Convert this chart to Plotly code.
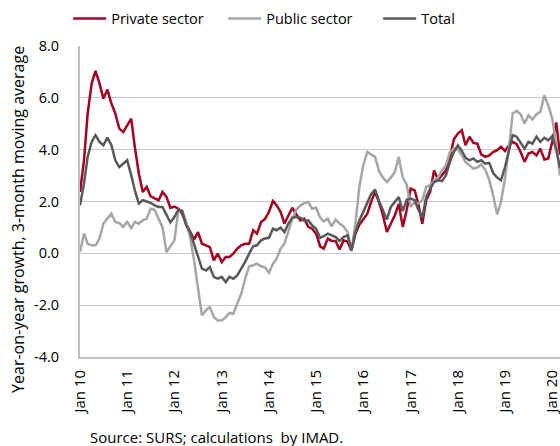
import pandas as pd
import plotly.graph_objects as go

# Monthly data, Jan 2010 – Mar 2020 (year-on-year growth, 3-month moving average, %)
private_sector = [
    2.37, 3.59, 5.39, 6.55, 7.04, 6.55, 5.97, 6.32, 5.78, 5.39, 4.81, 4.68,
    4.94, 5.20, 4.10, 3.08, 2.37, 2.56, 2.20, 2.11, 2.05, 2.37, 2.18, 1.75,
    1.80, 1.72, 1.53, 1.14, 0.82, 0.53, 0.82, 0.37, 0.31, 0.24, -0.27, -0.01,
    -0.34, -0.14, -0.14, -0.01, 0.18, 0.31, 0.37, 0.37, 0.89, 0.76, 1.21, 1.32,
    1.60, 2.02, 1.86, 1.60, 1.15, 1.47, 1.76, 1.50, 1.27, 1.34, 1.02, 0.95,
    0.76, 0.27, 0.18, 0.57, 0.48, 0.48, 0.15, 0.50, 0.45, 0.10, 0.76, 1.10,
    1.30, 1.53, 1.98, 2.37, 1.98, 1.47, 0.82, 1.14, 1.47, 1.91, 1.02, 1.66,
    2.50, 2.43, 1.91, 1.14, 2.05, 2.37, 3.20, 2.84, 3.01, 3.20, 3.72, 4.40,
    4.62, 4.75, 4.17, 4.50, 4.26, 4.23, 3.82, 3.72, 3.78, 3.91, 3.98, 4.11,
    3.95, 4.17, 4.30, 4.21, 3.91, 3.53, 3.85, 3.91, 3.78, 4.04, 3.62, 3.66,
    4.30, 5.05, 3.80,
]
public_sector = [
    0.05, 0.76, 0.37, 0.31, 0.31, 0.57, 1.15, 1.34, 1.53, 1.21, 1.17, 1.02,
    1.21, 0.97, 1.21, 1.15, 1.27, 1.34, 1.72, 1.68, 1.34, 1.00, 0.05, 0.25,
    0.50, 1.66, 1.66, 1.21, 0.63, -0.27, -1.30, -2.39, -2.20, -2.07, -2.46, -2.59,
    -2.59, -2.46, -2.30, -2.33, -1.94, -1.56, -0.98, -0.50, -0.46, -0.40, -0.50, -0.54,
    -0.75, -0.40, -0.21, 0.18, 0.37, 0.82, 1.34, 1.69, 1.85, 1.94, 1.98, 1.72,
    1.76, 1.38, 1.23, 1.34, 1.04, 1.30, 1.15, 1.04, 0.82, 0.11, 1.15, 2.56,
    3.40, 3.91, 3.82, 3.72, 3.18, 2.92, 2.75, 2.92, 3.14, 3.72, 2.92, 2.66,
    1.79, 1.98, 1.92, 2.05, 2.56, 2.63, 2.82, 2.92, 3.20, 3.40, 3.91, 4.04,
    4.00, 3.78, 3.53, 3.40, 3.27, 3.31, 3.43, 3.23, 2.82, 2.24, 1.50, 2.00,
    2.90, 4.10, 5.40, 5.50, 5.37, 5.01, 5.33, 5.16, 5.37, 5.46, 6.10, 5.71,
    5.20, 4.20, 3.00,
]
total = [
    1.85, 2.69, 3.72, 4.30, 4.56, 4.30, 4.17, 4.47, 4.17, 3.59, 3.33, 3.46,
    3.59, 3.01, 2.43, 1.92, 2.05, 2.00, 1.95, 1.85, 1.79, 1.79, 1.47, 1.19,
    1.40, 1.69, 1.63, 1.08, 0.82, 0.37, -0.14, -0.59, -0.66, -0.53, -0.91, -0.98,
    -0.91, -1.11, -0.91, -0.98, -0.85, -0.59, -0.33, -0.01, 0.27, 0.31, 0.50, 0.57,
    0.60, 0.95, 0.89, 0.99, 0.82, 1.15, 1.38, 1.40, 1.38, 1.25, 1.27, 1.08,
    0.95, 0.60, 0.66, 0.76, 0.70, 0.63, 0.48, 0.63, 0.70, 0.11, 0.82, 1.27,
    1.60, 1.98, 2.28, 2.46, 2.02, 1.66, 1.30, 1.79, 1.98, 2.17, 1.63, 2.07,
    2.11, 2.05, 1.69, 1.38, 2.17, 2.50, 2.75, 2.82, 2.79, 3.01, 3.53, 3.91,
    4.17, 3.95, 3.69, 3.59, 3.66, 3.53, 3.59, 3.46, 3.49, 3.10, 2.92, 2.82,
    3.33, 4.04, 4.56, 4.50, 4.26, 4.04, 4.30, 4.23, 4.50, 4.30, 4.46, 4.36,
    4.52, 4.00, 3.30,
]
months = pd.date_range("2010-01-01", periods=len(total), freq="MS")

x_tick_dates = [f"{y}-01-01" for y in range(2010, 2021)]
x_tick_labels = ["Jan 10", "Jan 11", "Jan 12", "Jan 13", "Jan 14", "Jan 15",
                 "Jan 16", "Jan 17", "Jan 18", "Jan 19", "Jan 20"]
y_tick_values = [-4, -2, 0, 2, 4, 6, 8]
y_tick_labels = ["-4.0", "-2.0", "0.0", "2.0", "4.0", "6.0", "8.0"]

FONT = "Open Sans"
fig = go.Figure()
fig.add_trace(go.Scatter(x=months, y=private_sector, name="Private sector",
                         mode="lines", line=dict(color="#A50021", width=2.5)))
fig.add_trace(go.Scatter(x=months, y=public_sector, name="Public sector",
                         mode="lines", line=dict(color="#A6A6A6", width=2.5)))
fig.add_trace(go.Scatter(x=months, y=total, name="Total",
                         mode="lines", line=dict(color="#595959", width=2.5)))

fig.update_layout(
    width=560, height=446,
    margin=dict(l=80, r=0, t=46, b=89, autoexpand=False),
    paper_bgcolor="white", plot_bgcolor="white",
    font=dict(family=FONT, size=14, color="#000000"),
    showlegend=True,
    legend=dict(orientation="h", x=-0.0246, xanchor="left", y=1.088, yanchor="middle",
                font=dict(family=FONT, size=14.5), bgcolor="rgba(0,0,0,0)",
                itemwidth=33, entrywidth=107, entrywidthmode="pixels"),
    xaxis=dict(range=["2010-01-01", "2020-03-01"], tickmode="array",
               tickvals=x_tick_dates, ticktext=x_tick_labels, tickangle=-90,
               showgrid=False, showline=True, linecolor="#BFBFBF", linewidth=2,
               ticks="outside", ticklen=5, tickcolor="rgba(0,0,0,0)",
               ticklabeloverflow="allow",
               tickfont=dict(family=FONT, size=15), zeroline=False, automargin=False),
    yaxis=dict(range=[-4, 8], tickmode="array", tickvals=y_tick_values,
               ticktext=y_tick_labels, showgrid=True, gridcolor="#C8C8C8",
               gridwidth=1.2, showline=True, linecolor="#BFBFBF", linewidth=2,
               ticks="outside", ticklen=16, tickcolor="rgba(0,0,0,0)",
               tickfont=dict(family=FONT, size=14.5), zeroline=False, automargin=False),
    annotations=[
        dict(text="Year-on-year growth, 3-month moving average", textangle=-90,
             xref="paper", yref="paper", x=-0.129, y=0.441, xanchor="center",
             yanchor="middle", showarrow=False, font=dict(family=FONT, size=16)),
        dict(text="Source: SURS; calculations&nbsp; by IMAD.", xref="paper", yref="paper",
             x=0.0167, y=-0.258, xanchor="left", yanchor="middle", showarrow=False,
             font=dict(family=FONT, size=15)),
    ],
)

fig.write_html("out.html", config={"displayModeBar": False},
               post_script="document.body.style.margin='0';")
